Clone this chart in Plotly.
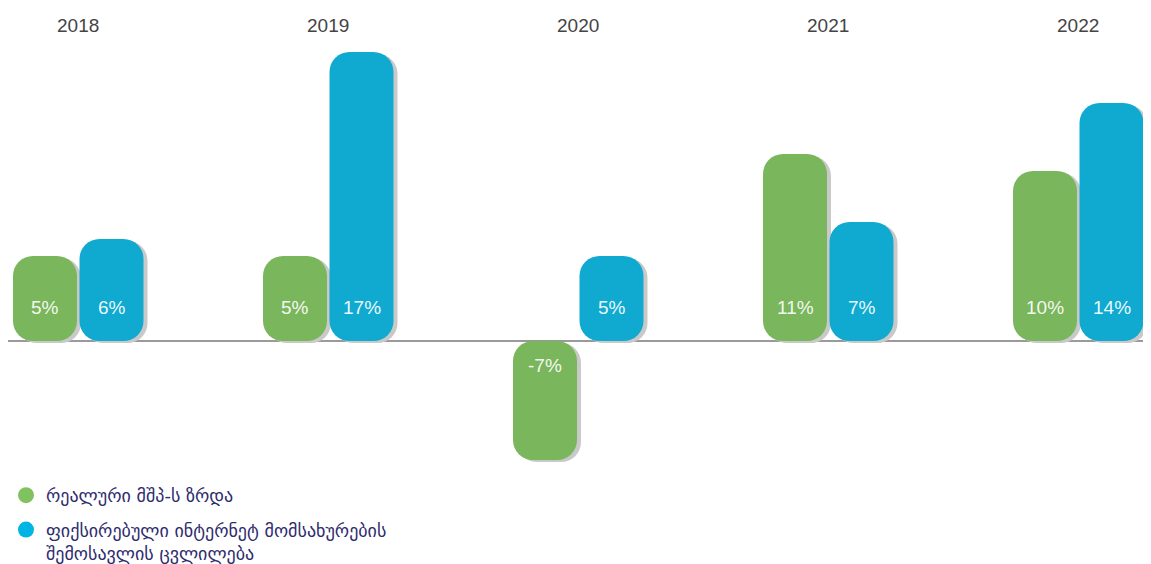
import numpy as np
import plotly.graph_objects as go

# ---- data ----
years = ["2018", "2019", "2020", "2021", "2022"]
gdp_growth = [5, 5, -7, 11, 10]            # რეალური მშპ-ს ზრდა
internet_rev = [6, 17, 5, 7, 14]           # ფიქსირებული ინტერნეტ ...
series_names = ["რეალური მშპ-ს ზრდა",
                "ფიქსირებული ინტერნეტ მომსახურების<br>შემოსავლის ცვლილება"]

# ---- style ----
GREEN = "#7AB65C"
BLUE = "#10AAD1"
GREEN_LEG = "#7FC25F"
BLUE_LEG = "#00B4E3"
SHADOW = "#C9C9C9"
BAR_W = 0.256
OFFS = [-0.132, 0.134]
SH_DX = 0.016
RADIUS = 20

W, H = 1143, 556          # page body adds 8px margin -> 1151x564 view
ZERO_PX = 333             # pixel row of the zero line (from top)
X0_PX = 70                # pixel column of first group centre
PX_PER_CAT = 250
S = 17.0                  # pixels per percentage point
SH_DY = 2 / S

idx = np.arange(len(years))
fig = go.Figure()


def add_rounded(xpos, vals, color, dx=0.0, dy=0.0):
    vals = np.array(vals, dtype=float)
    fig.add_trace(go.Bar(x=xpos + dx, y=vals, base=[-dy] * len(vals),
                         width=BAR_W,
                         marker=dict(color=color, cornerradius=RADIUS, line=dict(width=0)),
                         showlegend=False, hoverinfo="skip"))


series = [gdp_growth, internet_rev]
colors = [GREEN, BLUE]
for s, off in zip(series, OFFS):
    add_rounded(idx + off, s, SHADOW, SH_DX, SH_DY)
for s, off, c in zip(series, OFFS, colors):
    add_rounded(idx + off, s, c)

# value labels
for s, off in zip(series, OFFS):
    for i, v in enumerate(s):
        fig.add_annotation(x=i + off, y=0, xref="x", yref="y", text=f"{v}%",
                           showarrow=False, yshift=34 if v > 0 else -24,
                           font=dict(family="Liberation Sans, Arial", size=19,
                                     color="rgba(255,255,255,0.93)"))

# year labels
for i, yr in enumerate(years):
    fig.add_annotation(x=i, y=1 - 17 / H, xref="x", yref="paper", text=yr,
                       showarrow=False, yanchor="middle",
                       font=dict(family="Liberation Sans, Arial", size=19, color="#444444"))

# legend entries
for k, (name, c) in enumerate(zip(series_names, [GREEN_LEG, BLUE_LEG])):
    fig.add_trace(go.Scatter(x=[-5], y=[-100], mode="markers", name=name,
                             legendgroup=f"g{k}",
                             marker=dict(symbol="circle", size=16, color=c),
                             hoverinfo="skip"))

xmin = -X0_PX / PX_PER_CAT
fig.update_layout(
    width=W, height=H,
    margin=dict(l=0, r=0, t=0, b=0, autoexpand=False),
    paper_bgcolor="white", plot_bgcolor="white",
    barmode="overlay",
    xaxis=dict(range=[xmin, xmin + W / PX_PER_CAT], visible=False, fixedrange=True),
    yaxis=dict(range=[-(H - ZERO_PX) / S, ZERO_PX / S], showgrid=False, showticklabels=False,
               zeroline=True, zerolinecolor="#9a9a9a", zerolinewidth=1.5, fixedrange=True),
    showlegend=True,
    legend=dict(x=-2 / W, y=1 - 469 / H, xanchor="left", yanchor="top",
                valign="top", tracegroupgap=8, bgcolor="rgba(0,0,0,0)",
                font=dict(family="DejaVu Sans", size=18, color="#2E2C6E")),
)

fig.write_html("out.html")
